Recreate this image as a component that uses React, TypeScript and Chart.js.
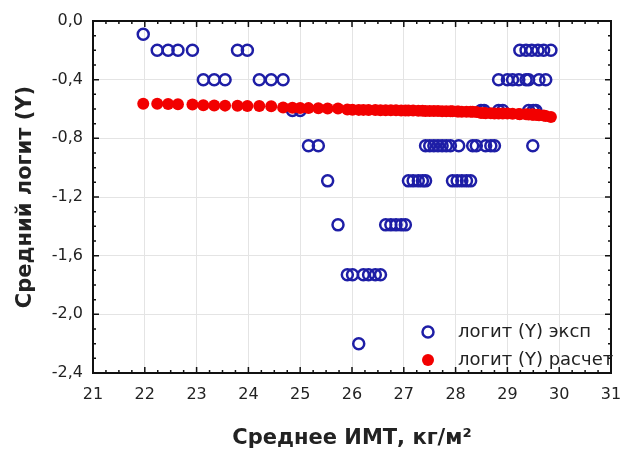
import React, { useEffect, useRef } from "react";
import { Chart, registerables } from "chart.js";

Chart.register(...registerables);

// Experimental mean logit (Y) vs mean BMI
const expBmi = [
  21.97,
  22.24, 22.45, 22.64, 22.92,
  23.13, 23.34, 23.55,
  23.79, 23.98,
  24.21, 24.44, 24.67,
  24.85, 25.0,
  25.16, 25.35,
  25.53,
  25.73,
  25.91, 26.01,
  26.13,
  26.22, 26.32, 26.45, 26.55,
  26.65, 26.75, 26.85, 26.95, 27.03,
  27.09, 27.18, 27.28, 27.36, 27.42,
  27.42, 27.5, 27.58, 27.66, 27.74, 27.82, 27.9,
  27.94, 28.03, 28.12, 28.21, 28.29,
  28.06, 28.33, 28.4, 28.58, 28.68, 28.75,
  28.49, 28.55,
  28.83, 28.83, 28.91,
  29.0, 29.1, 29.22, 29.36, 29.41, 29.61, 29.74,
  29.24, 29.36, 29.47, 29.59, 29.7, 29.84,
  29.41, 29.5, 29.55,
  29.49,
];
const expLogit = [
  -0.09,
  -0.2, -0.2, -0.2, -0.2,
  -0.4, -0.4, -0.4,
  -0.2, -0.2,
  -0.4, -0.4, -0.4,
  -0.61, -0.61,
  -0.85, -0.85,
  -1.09,
  -1.39,
  -1.73, -1.73,
  -2.2,
  -1.73, -1.73, -1.73, -1.73,
  -1.39, -1.39, -1.39, -1.39, -1.39,
  -1.09, -1.09, -1.09, -1.09, -1.09,
  -0.85, -0.85, -0.85, -0.85, -0.85, -0.85, -0.85,
  -1.09, -1.09, -1.09, -1.09, -1.09,
  -0.85, -0.85, -0.85, -0.85, -0.85, -0.85,
  -0.61, -0.61,
  -0.4, -0.61, -0.61,
  -0.4, -0.4, -0.4, -0.4, -0.4, -0.4, -0.4,
  -0.2, -0.2, -0.2, -0.2, -0.2, -0.2,
  -0.61, -0.61, -0.61,
  -0.85,
];

// Calculated logit (Y)
const calcBmi = [
  21.97, 22.24, 22.45, 22.64, 22.92, 23.13, 23.34, 23.55, 23.79, 23.98,
  24.21, 24.44, 24.67, 24.85, 25.0, 25.16, 25.35, 25.53, 25.73, 25.91,
  26.01, 26.13, 26.22, 26.32, 26.45, 26.55, 26.65, 26.75, 26.85, 26.95,
  27.03, 27.09, 27.18, 27.28, 27.36, 27.42, 27.5, 27.58, 27.66, 27.74,
  27.82, 27.9, 27.94, 28.03, 28.06, 28.12, 28.21, 28.29, 28.33, 28.4,
  28.49, 28.55, 28.58, 28.68, 28.75, 28.83, 28.91, 29.0, 29.1, 29.22,
  29.24, 29.36, 29.41, 29.47, 29.49, 29.5, 29.55, 29.59, 29.61, 29.7,
  29.74, 29.84,
];
const calcLogit = [
  -0.565, -0.565, -0.566, -0.567, -0.569, -0.575, -0.576, -0.577, -0.578, -0.579,
  -0.58, -0.581, -0.589, -0.591, -0.593, -0.594, -0.595, -0.596, -0.597, -0.604,
  -0.605, -0.606, -0.606, -0.607, -0.607, -0.608, -0.608, -0.609, -0.609, -0.61,
  -0.61, -0.611, -0.611, -0.612, -0.612, -0.613, -0.613, -0.614, -0.614, -0.615,
  -0.615, -0.616, -0.616, -0.617, -0.617, -0.618, -0.618, -0.619, -0.619, -0.62,
  -0.628, -0.628, -0.629, -0.629, -0.63, -0.63, -0.631, -0.631, -0.632, -0.634,
  -0.635, -0.636, -0.637, -0.638, -0.638, -0.639, -0.64, -0.641, -0.642, -0.645,
  -0.648, -0.655,
];

const xTitle = "Среднее ИМТ, кг/м²";
const yTitle = "Средний логит (Y)";
const legendLabels = ["логит (Y) эксп", "логит (Y) расчет"];

const BLUE = "#1e1ea6";
const RED = "#f20000";
const TEXT = "#222222";
const FONT = "'DejaVu Sans', sans-serif";

const framePlugin = {
  id: "frameTicks",
  afterDatasetsDraw(chart: any) {
    const { ctx, chartArea: a, scales } = chart;
    const xs = scales.x;
    const ys = scales.y;
    ctx.save();
    ctx.strokeStyle = "#111";
    ctx.lineWidth = 1.5;
    // minor + major ticks (inward) on all four sides
    for (let i = 0; i <= 40; i++) {
      const v = 21 + i * 0.25;
      const px = xs.getPixelForValue(v);
      const len = i % 4 === 0 ? 6 : 3;
      ctx.beginPath();
      ctx.moveTo(px, a.bottom);
      ctx.lineTo(px, a.bottom - len);
      ctx.moveTo(px, a.top);
      ctx.lineTo(px, a.top + len);
      ctx.stroke();
    }
    for (let i = 0; i <= 24; i++) {
      const v = -i * 0.1;
      const py = ys.getPixelForValue(v);
      const len = i % 4 === 0 ? 6 : 3;
      ctx.beginPath();
      ctx.moveTo(a.left, py);
      ctx.lineTo(a.left + len, py);
      ctx.moveTo(a.right, py);
      ctx.lineTo(a.right - len, py);
      ctx.stroke();
    }
    ctx.lineWidth = 2;
    ctx.strokeRect(a.left, a.top, a.right - a.left, a.bottom - a.top);

    // legend inside plot, bottom-right
    const lx = a.right - 183;
    const ly1 = a.bottom - 41;
    const ly2 = a.bottom - 13;
    ctx.beginPath();
    ctx.lineWidth = 2.5;
    ctx.strokeStyle = BLUE;
    ctx.arc(lx, ly1, 5.5, 0, Math.PI * 2);
    ctx.stroke();
    ctx.beginPath();
    ctx.fillStyle = RED;
    ctx.arc(lx, ly2, 6, 0, Math.PI * 2);
    ctx.fill();
    ctx.fillStyle = TEXT;
    ctx.font = `18px ${FONT}`;
    ctx.textAlign = "left";
    ctx.textBaseline = "middle";
    ctx.fillText(legendLabels[0], lx + 30, ly1);
    ctx.fillText(legendLabels[1], lx + 30, ly2);
    ctx.restore();
  },
};

export default function App() {
  const ref = useRef<HTMLCanvasElement | null>(null);
  useEffect(() => {
    document.body.style.margin = "0";
    const canvas = ref.current;
    if (!canvas) return;
    const expData = expBmi.map((x, i) => ({ x, y: expLogit[i] }));
    const calcData = calcBmi.map((x, i) => ({ x, y: calcLogit[i] }));
    const chart = new Chart(canvas, {
      type: "scatter",
      data: {
        datasets: [
          {
            label: legendLabels[0],
            data: expData,
            pointStyle: "circle",
            pointRadius: 5.5,
            pointHoverRadius: 5.5,
            borderWidth: 2.5,
            borderColor: BLUE,
            backgroundColor: "rgba(0,0,0,0)",
            order: 1,
          },
          {
            label: legendLabels[1],
            data: calcData,
            pointStyle: "circle",
            pointRadius: 6,
            pointHoverRadius: 6,
            borderWidth: 0,
            borderColor: RED,
            backgroundColor: RED,
            order: 0,
          },
        ],
      },
      options: {
        responsive: false,
        animation: false,
        events: [],
        layout: { padding: { top: 21, right: 17, left: 0, bottom: 0 } },
        plugins: {
          legend: { display: false },
          tooltip: { enabled: false },
        },
        scales: {
          x: {
            type: "linear",
            min: 21,
            max: 31,
            afterFit: (s: any) => {
              s.height = 77;
              s.paddingLeft = 0;
              s.paddingRight = 0;
            },
            ticks: {
              stepSize: 1,
              padding: 12,
              color: TEXT,
              font: { family: FONT, size: 16 },
              callback: (v: any) => String(v),
            },
            grid: { color: "#e4e4e4", lineWidth: 1, drawTicks: false },
            border: { display: false },
            title: {
              display: true,
              text: xTitle,
              color: TEXT,
              font: { family: FONT, size: 21, weight: "bold" },
              padding: { top: 0, bottom: -1 },
            },
          },
          y: {
            type: "linear",
            min: -2.4,
            max: 0,
            afterFit: (s: any) => {
              s.width = 93;
              s.paddingTop = 0;
              s.paddingBottom = 0;
            },
            ticks: {
              stepSize: 0.4,
              padding: 10,
              color: TEXT,
              font: { family: FONT, size: 16 },
              callback: (v: any) => (Math.abs(v) < 1e-9 ? 0 : Number(v)).toFixed(1).replace(".", ","),
            },
            grid: { color: "#e4e4e4", lineWidth: 1, drawTicks: false },
            border: { display: false },
            title: {
              display: true,
              text: yTitle,
              color: TEXT,
              font: { family: FONT, size: 21, weight: "bold" },
              padding: { top: 13, bottom: 0 },
            },
          },
        },
      },
      plugins: [framePlugin],
    });
    return () => chart.destroy();
  }, []);
  return <canvas ref={ref} width={628} height={450} style={{ display: "block" }} />;
}
